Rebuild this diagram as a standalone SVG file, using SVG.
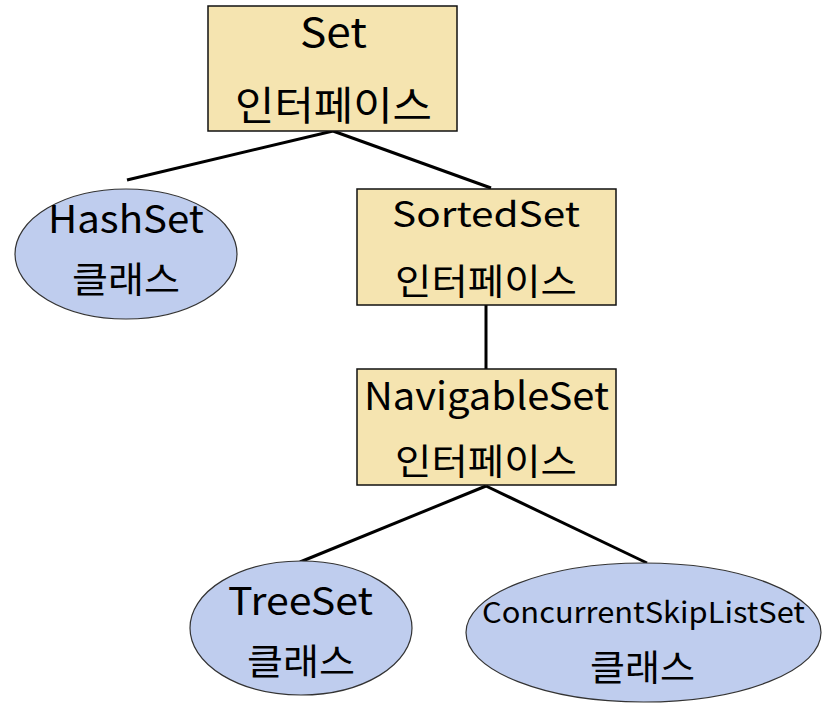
<svg xmlns="http://www.w3.org/2000/svg" width="834" height="711" viewBox="0 0 834 711">
<style>
.box{fill:#F5E4B0;stroke:#111;stroke-width:1.5}
.ell{fill:#BFCDEE;stroke:#333;stroke-width:1.2}
.t{font-family:"Noto Sans CJK KR","Noto Sans",sans-serif;fill:#000;text-anchor:middle}
.edge{stroke:#000;stroke-width:3;fill:none}
</style>
<rect width="834" height="711" fill="#fff"/>
<g id="connectors">
<line class="edge" x1="333" y1="131" x2="127" y2="180"/>
<line class="edge" x1="333" y1="131" x2="491" y2="188"/>
<line class="edge" x1="486" y1="305" x2="486" y2="369"/>
<line class="edge" x1="486" y1="486" x2="300" y2="562"/>
<line class="edge" x1="486" y1="486" x2="647" y2="563"/>
</g>
<g id="set">
<rect class="box" x="208" y="6" width="249" height="125"/>
<text class="t" x="333.5" y="47" font-size="40" textLength="67" lengthAdjust="spacingAndGlyphs">Set</text>
<text class="t" x="333.5" y="120" font-size="40" textLength="197" lengthAdjust="spacingAndGlyphs">인터페이스</text>
</g>
<g id="hashset">
<ellipse class="ell" cx="126" cy="254" rx="111" ry="65"/>
<text class="t" x="126" y="233" font-size="38" textLength="156" lengthAdjust="spacingAndGlyphs">HashSet</text>
<text class="t" x="126" y="293" font-size="36" textLength="108" lengthAdjust="spacingAndGlyphs">클래스</text>
</g>
<g id="sortedset">
<rect class="box" x="357" y="189" width="259" height="116"/>
<text class="t" x="486" y="227" font-size="35" textLength="188" lengthAdjust="spacingAndGlyphs">SortedSet</text>
<text class="t" x="486" y="295" font-size="36" textLength="182" lengthAdjust="spacingAndGlyphs">인터페이스</text>
</g>
<g id="navigableset">
<rect class="box" x="357" y="369" width="259" height="116"/>
<text class="t" x="486.5" y="410" font-size="38" textLength="245" lengthAdjust="spacingAndGlyphs">NavigableSet</text>
<text class="t" x="486" y="475" font-size="36" textLength="182" lengthAdjust="spacingAndGlyphs">인터페이스</text>
</g>
<g id="treeset">
<ellipse class="ell" cx="301" cy="628" rx="111" ry="67"/>
<text class="t" x="300.5" y="615" font-size="38" textLength="145" lengthAdjust="spacingAndGlyphs">TreeSet</text>
<text class="t" x="301" y="675" font-size="36" textLength="108" lengthAdjust="spacingAndGlyphs">클래스</text>
</g>
<g id="csls">
<ellipse class="ell" cx="643.5" cy="632.5" rx="177.5" ry="69.5"/>
<text class="t" x="643.5" y="623" font-size="29" textLength="323" lengthAdjust="spacingAndGlyphs">ConcurrentSkipListSet</text>
<text class="t" x="642.5" y="681" font-size="36" textLength="105" lengthAdjust="spacingAndGlyphs">클래스</text>
</g>
</svg>
